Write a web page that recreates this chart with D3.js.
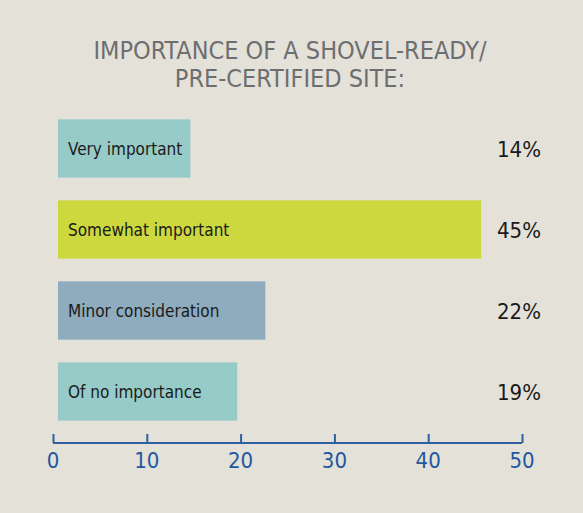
<!DOCTYPE html>
<html>
<head>
<meta charset="utf-8">
<script src="https://cdn.jsdelivr.net/npm/d3@7"></script>
<style>
  body { margin: 0; background: #e4e1d9; }
  svg { display: block; }
  text { font-family: "Liberation Sans Narrow", "DejaVu Sans Condensed", sans-serif; }
</style>
</head>
<body>
<div id="chart"></div>
<script>
var categories = ["Very important", "Somewhat important", "Minor consideration", "Of no importance"];
var values = [14, 45, 22, 19];
var labels = ["14%", "45%", "22%", "19%"];
var colors = ["#97cbc7", "#cdd83e", "#8eacbd", "#97cbc7"];
var ticks = [0, 10, 20, 30, 40, 50];

var width = 583, height = 513;
var svg = d3.select("#chart").append("svg")
    .attr("width", width).attr("height", height);

svg.append("rect").attr("width", width).attr("height", height).attr("fill", "#e4e1d9");

// title
var title = svg.append("text")
    .attr("x", 290).attr("text-anchor", "middle")
    .attr("fill", "#6d6e70").attr("font-size", 25);
title.append("tspan").attr("x", 290).attr("y", 59).text("IMPORTANCE OF A SHOVEL-READY/");
title.append("tspan").attr("x", 290).attr("y", 87).text("PRE-CERTIFIED SITE:");

var x = d3.scaleLinear().domain([0, 50]).range([53, 522]);
var y = d3.scaleBand().domain(categories).range([108, 432]).paddingInner(0.28).paddingOuter(0.14);

// bars start a few px right of the axis origin
svg.selectAll(".bar").data(categories).enter().append("rect")
    .attr("x", x(0) + 5)
    .attr("y", function(d) { return y(d); })
    .attr("width", function(d, i) { return x(values[i]) - x(0) + 1; })
    .attr("height", y.bandwidth())
    .attr("fill", function(d, i) { return colors[i]; });

svg.selectAll(".cat").data(categories).enter().append("text")
    .attr("x", 68)
    .attr("y", function(d) { return y(d) + y.bandwidth() / 2 + 6; })
    .attr("font-size", 17).attr("fill", "#1a1a1a")
    .text(function(d) { return d; });

svg.selectAll(".pct").data(categories).enter().append("text")
    .attr("x", 541).attr("text-anchor", "end")
    .attr("y", function(d) { return y(d) + y.bandwidth() / 2 + 8; })
    .attr("font-size", 22).attr("fill", "#1a1a1a")
    .text(function(d, i) { return labels[i]; });

// axis with ticks pointing up
var axis = svg.append("g").attr("transform", "translate(0,443)")
    .call(d3.axisTop(x).tickValues(ticks).tickSize(9).tickFormat(""));
axis.select(".domain").remove();
axis.selectAll("line").attr("stroke", "#2f5fa0").attr("stroke-width", 2);
axis.append("line").attr("x1", x(0)).attr("x2", x(50))
    .attr("stroke", "#2f5fa0").attr("stroke-width", 2);

svg.selectAll(".tick-label").data(ticks).enter().append("text")
    .attr("x", function(d) { return x(d); })
    .attr("y", 468).attr("text-anchor", "middle")
    .attr("font-size", 22).attr("fill", "#2257a0")
    .text(function(d) { return d; });
</script>
</body>
</html>
